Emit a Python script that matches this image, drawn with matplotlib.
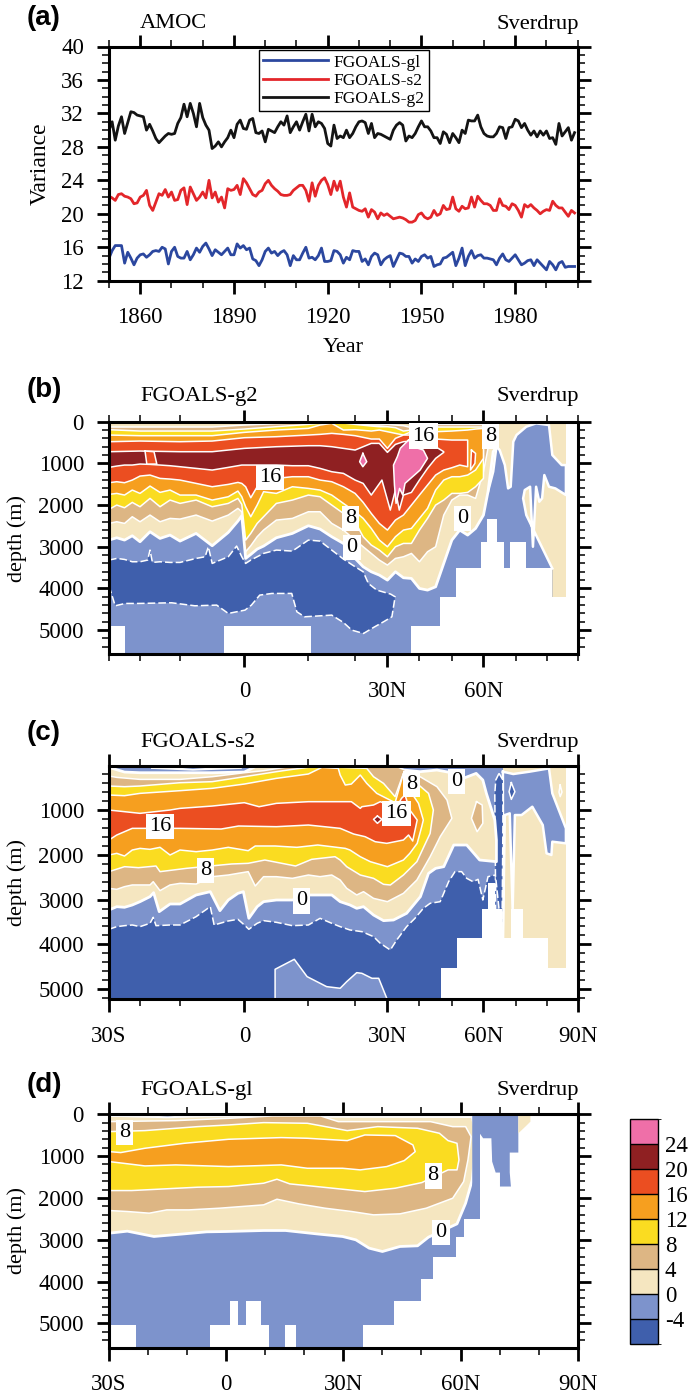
import matplotlib
matplotlib.use('Agg')
import matplotlib.pyplot as plt
from matplotlib.cm import ScalarMappable
from matplotlib.colors import BoundaryNorm, ListedColormap
import numpy as np

plt.rcParams['font.family'] = ['Liberation Serif', 'DejaVu Serif']

# colores de los niveles
levels = [-8, -4, 0, 4, 8, 12, 16, 20, 24, 28]
col_db, col_lb, col_cream, col_tan, col_yellow = '#3F5FAC', '#7D93CC', '#F5E6C0', '#DDB684', '#FADC21'
col_orange, col_red, col_dred, col_pink = '#F69F1F', '#EB4E21', '#8F2022', '#EF6FA8'
level_colors = [col_db, col_lb, col_cream, col_tan, col_yellow, col_orange, col_red, col_dred, col_pink]

# ---- panel (a) ----
years = list(range(1850, 2000))
g2 = [30.0, 31.0, 28.8, 30.5, 31.6, 29.6, 30.9, 32.2, 32.1, 31.8,
      31.7, 31.6, 30.0, 30.7, 29.9, 29.0, 28.5, 28.9, 29.3, 29.6,
      29.5, 29.6, 30.8, 31.5, 33.1, 31.6, 33.2, 32.0, 30.4, 33.2,
      31.5, 30.6, 30.0, 27.8, 28.1, 28.6, 28.0, 28.6, 29.1, 30.0,
      29.1, 30.7, 31.2, 30.2, 30.1, 31.2, 31.4, 29.7, 29.6, 29.9,
      28.6, 30.1, 29.9, 29.7, 30.4, 31.0, 30.6, 31.7, 29.7, 30.4,
      31.0, 30.0, 31.0, 31.9, 29.9, 31.9, 30.4, 31.0, 30.8, 30.2,
      28.4, 28.1, 30.6, 29.0, 29.3,
      29.1, 30.0, 29.1, 29.6, 30.4, 31.0, 31.1, 30.9, 29.6, 30.8,
      29.1, 29.6, 29.5, 29.3, 29.1, 28.9, 30.0, 30.6, 30.9, 30.6,
      28.7, 29.3, 29.1, 29.6, 30.4, 31.1, 30.4, 30.4, 29.9, 29.1,
      29.1, 28.4, 29.8, 29.5, 28.5, 29.6, 29.1, 28.5, 30.0, 29.6,
      31.2, 31.1, 31.1, 31.8, 30.4, 29.6, 29.3, 29.2, 29.2, 29.6,
      30.4, 30.3, 29.0, 30.3, 30.4, 31.3, 31.1, 30.3, 30.8, 30.0,
      29.4, 29.9, 29.2, 29.9, 29.4, 29.9, 29.0, 29.1, 28.3, 30.8,
      29.3, 29.8, 30.3, 28.8, 29.7]
s2 = [22.1, 21.9, 21.6, 22.3, 22.4, 22.1, 22.0, 21.8, 21.2, 21.3,
      22.0, 22.2, 22.8, 21.0, 20.4, 21.4, 22.4, 22.2, 22.9, 22.0,
      22.6, 21.6, 21.7, 22.8, 23.1, 21.1, 23.2, 22.4, 21.6, 22.0,
      22.6, 21.9, 24.0, 21.9, 22.6, 21.4, 22.0, 20.7, 23.0, 22.8,
      22.9, 23.4, 22.3, 24.2, 23.7, 23.0, 22.3, 22.1, 22.6, 22.8,
      23.6, 24.0, 23.4, 23.0, 22.7, 22.3, 22.2, 22.2, 22.3, 22.8,
      23.1, 23.4, 23.4, 22.8, 21.5, 23.7, 22.1, 23.4, 24.0, 24.3,
      23.5, 22.3, 23.9, 22.8, 23.9,
      22.0, 20.8, 22.5, 20.8, 20.6, 20.4, 20.3, 20.6, 19.6, 20.5,
      20.2, 19.4, 20.1, 19.8, 20.0, 19.7, 19.4, 19.5, 19.6, 19.5,
      19.3, 19.0, 19.0, 19.2, 19.9, 20.1, 19.6, 19.4, 19.6, 20.4,
      19.8, 20.0, 21.0, 20.5, 20.6, 22.0, 20.6, 20.3, 20.9, 20.6,
      20.7, 22.0, 20.8, 22.1, 21.6, 21.2, 21.2, 21.0, 20.4, 20.4,
      21.8, 21.0, 20.9, 20.5, 21.2, 21.0, 20.4, 19.6, 21.1, 20.8,
      21.1, 20.7, 20.4, 20.0, 20.3, 20.5, 20.4, 21.5, 21.0, 20.7,
      20.7, 20.2, 19.7, 20.4, 20.1]
g1 = [14.7, 15.6, 16.2, 16.2, 16.2, 14.1, 15.4, 14.7, 13.9, 14.7,
      15.1, 15.2, 14.8, 15.1, 15.5, 15.6, 15.5, 16.0, 15.8, 14.0,
      15.5, 16.0, 14.9, 14.7, 14.7, 15.5, 14.5, 15.1, 15.9, 15.4,
      16.1, 16.5, 15.8, 15.0, 15.7, 15.4, 15.1, 15.5, 15.9, 15.1,
      15.1, 16.4, 15.9, 16.2, 15.7, 15.9, 14.6, 14.4, 13.8, 14.5,
      15.5, 15.9, 15.3, 15.5, 15.0, 15.4, 15.6, 15.1, 13.8, 15.0,
      14.5, 14.5, 15.3, 16.0, 14.7, 14.8, 14.5, 15.0, 15.9, 14.3,
      14.3, 14.4, 15.6, 15.5, 15.1,
      14.1, 14.8, 14.5, 15.6, 15.5, 15.5, 14.3, 14.6, 13.9, 14.9,
      15.3, 15.1, 13.9, 14.5, 14.8, 15.0, 13.7, 14.5, 15.3, 15.2,
      14.9, 14.9, 14.1, 14.6, 14.3, 14.9, 15.1, 14.7, 14.9, 13.7,
      13.9, 14.0, 14.7, 14.8, 15.1, 15.4, 13.8, 14.7, 15.9, 13.8,
      14.9, 15.6, 14.7, 15.0, 15.1, 14.7, 14.7, 14.6, 14.5, 13.9,
      14.7, 15.2, 14.5, 14.3, 14.7, 15.1, 14.5, 13.9, 14.1, 14.4,
      14.5, 13.8, 14.5, 14.1, 13.7, 13.3, 14.3, 13.9, 13.3, 14.1,
      14.3, 13.6, 13.7, 13.7, 13.7]

# ---- panel (b): profundidad de los contornos ----
b_lat = [-30, -27.5, -25, -22.5, -20, -17.5, -15, -12.5, -10, -7.5, -5, -2.5, -1, -0.4, 0.2,
         1, 2, 3, 5, 7.5, 10, 12.5, 15, 17.5, 20, 22.5, 25, 27.5, 30, 32.5,
         35, 37.5, 40, 42.5, 45, 47.5, 50, 52.5, 55, 57.5, 60]
b_top_lat = [-30, -20, -10, -5, 0, 5, 10, 12.5, 15, 17.5, 20, 25, 27.5, 30, 32.5, 35, 37.5, 40,
             45, 50, 55, 57.5, 60]
b_l0 = [2840, 2784, 2840, 2736, 2880, 2640, 2800, 2720, 2864, 2680, 2976, 2656, 2384, 2256, 3280,
        3184, 3056, 2984, 2784, 2680, 2496, 2576, 2760, 2920, 3280, 3480, 3600, 3680, 3800, 3600,
        3744, 3760, 4000, 4040, 3960, 3400, 2840, 2600, 2720, 2560, 2240]
b_l4 = [2440, 2400, 2440, 2280, 2400, 2240, 2400, 2320, 2336, 2240, 2384, 2240, 2080, 2160, 3120,
        2976, 2760, 2600, 2360, 2320, 2160, 2160, 2440, 2600, 2840, 3000, 3160, 3320, 3440, 3280,
        3240, 3160, 3360, 3120, 3000, 2240, 1880, 1760, 1760, 1840, 1200]
b_l8 = [2104, 2000, 2064, 1936, 2040, 1840, 2040, 1880, 1960, 1880, 2040, 1960, 1840, 1984, 2840,
        2680, 2440, 2280, 1960, 1880, 1760, 1800, 2000, 2200, 2400, 2760, 2960, 3080, 3240, 3000,
        2920, 2920, 2600, 2320, 2000, 1880, 1720, 1720, 1696, 1560, 1360]
b_l12 = [1744, 1720, 1760, 1640, 1720, 1544, 1696, 1640, 1760, 1760, 1880, 1800, 1664, 1800, 2040,
         2280, 2000, 1680, 1720, 1560, 1600, 1640, 1760, 1960, 2160, 2320, 2560, 2840, 3000, 2760,
         2600, 2560, 2320, 2080, 1640, 1400, 1320, 1320, 1280, 1160, 880]
b_l16 = [1464, 1440, 1464, 1400, 1304, 1280, 1360, 1376, 1400, 1480, 1560, 1504, 1456, 1480, 1560,
         1824, 1560, 1400, 1360, 1320, 1320, 1400, 1440, 1560, 1720, 1936, 2200, 2440, 2600, 2360,
         2240, 2000, 1760, 1520, 1280, 1160, 1104, 1040, 1080]
b_l20_lat = [-30, -27.5, -25, -22.5, -20, -17.5, -15, -12.5, -10, -7.5, -5, -2.5, -1, -0.4, 0.2,
             1, 2, 3, 5, 7.5, 10, 12.5, 15, 17.5, 20, 22.5, 25, 28.3, 30.9, 32.5, 33.7, 35, 37.5,
             40, 42.5, 45, 47.5]
b_l20 = [1096, 1064, 1040, 1040, 1016, 1024, 1040, 1056, 1080, 1120, 1160, 1096, 1056, 1040, 1040,
         1040, 1040, 1040, 1040, 1056, 1056, 1120, 1200, 1240, 1400, 1480, 1760, 1400, 2120, 1640,
         2120, 1760, 1696, 1400, 1120, 880, 736]
b_u4 = [128, 128, 128, 128, 80, 48, 32, 32, 16, 32, 48, 80, 80, 64, 80, 96, 144, 64, 64, 64, 64, 64, 64]
b_u8 = [192, 224, 224, 224, 176, 120, 64, 40, 32, 32, 64, 104, 120, 120, 144, 224, 200, 144, 128, 128,
        128, 128, 128]
b_u12 = [320, 336, 336, 336, 256, 200, 160, 80, 40, 200, 192, 224, 200, 240, 280, 320, 240, 256, 240,
         224, 200, 176, 160]
b_u16_lat = [-30, -20, -10, -5, 0, 5, 10, 12.5, 15, 17.5, 20, 25, 27.5, 30, 32.5, 35, 37.5, 40, 45, 50, 55]
b_u16 = [480, 464, 480, 464, 384, 360, 320, 304, 280, 304, 336, 416, 416, 640, 400, 320, 320, 400, 416,
         440, 440]
b_u20_lat = [-30, -20, -10, -5, 0, 5, 10, 12.5, 15, 17.5, 20, 25, 27.5, 30, 32.5, 35, 37.5, 40, 45, 47.5]
b_u20 = [720, 704, 720, 720, 640, 600, 576, 576, 600, 640, 680, 520, 520, 736, 544, 480, 464, 464, 600, 720]
b_db_lat = [-30, -27.5, -25, -22.5, -20, -18.1, -17.5, -16.9, -15, -12.5, -10, -7.5, -6.1, -5.6, -5,
            -2.5, -1.2, -0.4, 0.2, 1, 2, 3, 5, 7.5, 10, 12.5, 15, 17.5, 20, 22.5, 24.1, 26.7, 31, 32.4,
            31.4, 28.8, 25.7, 22.6, 19.3, 17.5, 15, 9.4, 8.2, 7.4, 4.3, 2.4, 1.1, 0.1, -2.5, -4.3,
            -7.7, -12.1, -20.4, -24.8, -28, -30]
b_db = [3320, 3280, 3304, 3360, 3360, 3320, 3080, 3376, 3360, 3376, 3376, 3280, 3240, 3000, 3400,
        3240, 2984, 3240, 3400, 3320, 3240, 3160, 3080, 3104, 2840, 2864, 3080, 3296, 3480, 3600,
        3880, 4040, 4136, 4200,
        4680, 4800, 4936, 5080, 5000, 4816, 4640, 4680, 4560, 4120, 4120, 4160, 4400, 4520, 4600,
        4400, 4416, 4344, 4360, 4360, 4416, 3936]
b_pink_lat = [36.6, 34, 33.1, 31.9, 32.2, 32.7, 33.8, 34.8, 35.5, 40.2, 42.5, 41.2, 38.1]
b_pink = [440, 640, 840, 1040, 1520, 1960, 1600, 1760, 1480, 1160, 880, 680, 600]
b_pink2_lat = [22.4, 21.4, 22.4, 23.6]
b_pink2 = [760, 960, 1080, 960]
b_bridge_lat = [-18.75, -18.3, -15.8, -16.5]
b_bridge = [704, 1016, 1016, 720]
b_lens_lat = [56.2, 57.5, 57.3, 55.9]
b_lens = [680, 760, 1000, 1160]
b_polar_lat = [61.4, 63, 64, 65, 66.6, 67.6, 68.4, 69.2, 70.2, 73.3, 76.4, 80.5, 81.6, 84.7, 86.1, 86.1,
               82.6, 80.5, 79, 78.3, 77.4, 76.4, 75.4, 74.5, 72.8, 72.3, 73.3, 77.4, 81.6]
b_polar = [1680, 1200, 600, 680, 1040, 1600, 1560, 480, 320, 120, 40, 80, 800, 1040, 1040, 1760,
           1600, 1560, 1280, 1840, 1920, 1560, 3000, 1560, 1640, 1840, 2240, 2880, 3520]
b_bathy_lat = [-30, -25, -3.1, 10.6, 37.3, 46.2, 51.3, 59.2, 61.2, 64.2, 66.3, 68.3, 73.3, 81.6, 86.1, 90]
b_bathy = [4896, 5580, 4896, 5580, 4896, 4200, 3520, 2896, 2336, 2896, 3520, 2896, 3520, 4200, 0, 0]

# ---- panel (c) ----
c_db_lat = [-30, -27.5, -25, -22.5, -20, -17.5, -16.7, -16, -12.5, -10, -7.5, -5.3, -4.7, -2.5, -1, 0,
            0.7, 2, 3, 5, 7.5, 10, 12.5, 15, 16.8, 18.9, 22.1, 25.7, 27.8, 30.9, 32.9, 36, 38.6, 41.2,
            43.3, 46.4, 49, 51, 53.1, 54.7, 56.7, 58.3, 59.8, 61.4, 63.7]
c_db = [3663, 3604, 3582, 3567, 3604, 3529, 3396, 3582, 3567, 3567, 3381, 3157, 3567, 3477, 3440, 3567,
        3663, 3529, 3470, 3507, 3582, 3567, 3418, 3529, 3604, 3678, 3716, 3827, 3976, 4125, 3902, 3604,
        3418, 3195, 3083, 3046, 2600, 2376, 2376, 2525, 2600, 2547, 3009, 2488, 2451]
c_patch_lat = [4.8, 4.8, 7.8, 9.8, 13.9, 16.8, 18.2, 20.5, 22.1, 25.2, 27.3, 29.8, 29.8]
c_patch = [5300, 4556, 4333, 4720, 4943, 4980, 4832, 4631, 4646, 4757, 4757, 5203, 5300]
c_c0_lat = [-30, -27.5, -25, -22.5, -20, -17.5, -16.6, -15.2, -12.5, -10, -7.5, -5.3, -3.8, -2.5, -1, -0.15,
            0.7, 2, 3, 5, 7.5, 10, 12.5, 15, 16.8, 18.9, 20.5, 22.6, 25.7, 28.8, 31.9, 36, 40.3, 42.8,
            45, 47.5, 50.6, 54.7, 58.8, 64, 64, 63.5, 60.9, 59.8, 57.7, 53.6, 51, 45.4, 40.2, 35, 32.4,
            1.7, 0, -5, -10, -20, -25, -30]
c_c0 = [3232, 3158, 3172, 3120, 3046, 2934, 2845, 3269, 3098, 3098, 2897, 2823, 3247, 3009, 2860, 2823,
        3418, 3158, 3046, 3009, 3009, 2897, 2897, 2897, 3046, 3120, 3195, 3158, 3344, 3470, 3455, 3306,
        2934, 2414, 2302, 2265, 1781, 1781, 2116, 2153, 1670, 1223, 628, 330, 182, 293, 182, 107, 144,
        107, 62, 33, 152, 167, 167, 167, 152, 48]
c_c4_lat = [-30, -27.5, -25, -22.5, -20, -17.5, -16.7, -15, -12.5, -10, -7.5, -5, -2.5, -1, 0.6, 1.7, 3, 5,
            7.5, 10, 12.5, 15, 16.8, 18.2, 20.5, 22.6, 25.7, 30, 35, 39.2, 43.3, 46.4, 50, 48.5, 45.4,
            40.2, 33.5, 6.9, 3, 0, -5, -10, -20, -27.5, -30]
c_c4 = [2748, 2771, 2711, 2673, 2673, 2673, 2600, 2800, 2673, 2637, 2652, 2488, 2451, 2414, 2376, 2696,
        2488, 2488, 2525, 2451, 2488, 2451, 2562, 2748, 2897, 2823, 2972, 3046, 2860, 2562, 2042, 1595,
        1186, 777, 479, 256, 48, 33, 122, 167, 256, 316, 316, 271, 241]
c_c8_lat = [-30, -25, -20.5, -16, -15, -9, -2, 0.6, 3.2, 8, 10.7, 15.7, 16.8, 18.2, 21.6, 25.7, 28.8, 30.9,
            35, 39.2, 43.3, 44.3, 42.8, 39.2, 35, 32.4, 28.8, 25.7, 23.6, 16.8, 10, 7.5, 5, 0, -5, -10,
            -20, -25, -30]
c_c8 = [2376, 2265, 2287, 2250, 2376, 2302, 2205, 2190, 2116, 2250, 2101, 2042, 2116, 2265, 2451, 2525,
        2659, 2674, 2451, 2153, 1521, 1000, 628, 405, 182, 702, 405, 256, 70, 48, 48, 92, 144, 256, 367,
        390, 464, 479, 464]
c_c12_lat = [-30, -27.5, -25, -22.5, -20, -17.5, -15, -12.5, -10, -7.5, -5, -2.5, 0.6, 1.7, 4.8, 8.2, 12,
             17.9, 18.9, 21.6, 24.7, 30, 35, 37, 39.3, 40.7, 41.2, 39.7, 37.6, 35.5, 35, 32.4, 26.7, 23.6,
             21.6, 19.2, 17.9, 16.8, 16.4, 12.9, 10, 5, 0, -5, -10, -20, -25, -30]
c_c12 = [2004, 1967, 2027, 1893, 1856, 1878, 1833, 2004, 1893, 1930, 1893, 1833, 1908, 1803, 1803, 1833,
         1781, 1856, 1893, 2042, 2153, 2265, 2116, 1967, 1744, 1372, 1223, 851, 628, 368, 182, 836, 628,
         405, 219, 420, 442, 219, 70, 48, 196, 293, 420, 516, 568, 628, 680, 665]
c_c16_lat = [-30, -27.5, -22.5, -17.5, -10, -3.6, -0.9, 5, 10, 16.8, 19.7, 23.1, 26.2, 29.8, 35, 36.6, 37.9,
             39.3, 37, 35.5, 34.4, 32.9, 29.8, 27.8, 25.7, 22.1, 21.6, 19.2, 16.8, 15, 10, 5, 2.3, 0, -5,
             -10, -12.5, -20, -25, -30]
c_c16 = [1669, 1558, 1409, 1409, 1409, 1424, 1357, 1372, 1335, 1409, 1536, 1595, 1707, 1744, 1669, 1558,
         1692, 1223, 1000, 665, 740, 926, 873, 814, 888, 926, 963, 814, 814, 814, 814, 851, 926, 836, 911,
         963, 1000, 1074, 1037, 1000]
c_dlens_lat = [26.9, 28.3, 26.9, 25.7]
c_dlens = [1134, 1208, 1297, 1208]
c_tlens_lat = [57.8, 59.6, 59.8, 58, 56.2]
c_tlens = [814, 888, 1297, 1484, 1186]
c_polar_lat = [66, 69.2, 74.3, 80.5, 81.6, 86.1, 86.1, 81.6, 81.3, 79.7, 78.5, 75.2, 71.8, 69.7, 69, 68.1,
               66.6, 66]
c_polar = [144, 196, 144, 70, 628, 1409, 1744, 1707, 2004, 1967, 1335, 926, 1112, 1112, 3232, 1074, 1112, 3864]
c_strip_lat = [64.8, 66, 66, 65.7, 63.7, 63.5, 63.8]
c_strip = [182, 330, 1372, 3827, 2451, 628, 330]
c_dlens2_lat = [68.6, 69.7, 68.6, 67.9]
c_dlens2 = [389, 591, 762, 591]
c_clens_lat = [84.2, 84.8, 84.2, 83.8]
c_clens = [442, 600, 702, 600]
c_sliver_lat = [-17, -8, -0.5, -8]
c_sliver = [60, 42, 60, 100]
c_bathy_lat = [-30, 46.6, 51.6, 59.5, 61.4, 63.5, 65.8, 68.6, 72.3, 80.3, 86.1, 90]
c_bathy = [5300, 4534, 3864, 3216, 2622, 3216, 3864, 3216, 3864, 4534, 0, 0]

# ---- panel (d) ----
d_c0_lat = [-30, -25.3, -18.5, -10.7, -5, 0, 9.6, 15.2, 23.1, 29.8, 33.2, 36.6, 40, 44.5, 49, 51.8, 59.1,
            61.3, 63, 64.1, 63, -30]
d_c0 = [2842, 2794, 2921, 2858, 2810, 2802, 2778, 2778, 2858, 2921, 3001, 3200, 3280, 3160, 3144, 2937,
        2619, 2125, 1568, 533, 56, 32]
d_c4_lat = [-30, -25.3, -19.7, -15.2, -9.5, -1.7, 9.6, 13, 18.6, 25.3, 32.1, 37.7, 44.5, 51.2, 58, 60.8,
            61.9, 62.7, 61.3, 58, 52.3, 37.7, 28.7, 24.2, 11.8, 0.6, -12.9, -30]
d_c4 = [2300, 2324, 2364, 2285, 2285, 2245, 2165, 2030, 2141, 2245, 2324, 2404, 2380, 2245, 2006, 1608,
        1091, 533, 295, 295, 175, 175, 175, 40, 40, 96, 151, 175]
d_c8_lat = [-30, -24.2, -17.4, -7.3, 0.6, 9.6, 13, 16.3, 23.1, 29.8, 35.5, 43.3, 50.1, 56.8, 59.1, 59.6,
            59.1, 56.8, 54.6, 49, 38.8, 31, 20.8, 9.6, 0.6, -7.3, -20.8, -30]
d_c8 = [1823, 1823, 1791, 1743, 1727, 1648, 1552, 1664, 1727, 1791, 1847, 1767, 1632, 1329, 1329, 1091,
        693, 629, 454, 334, 295, 390, 215, 199, 255, 295, 390, 414]
d_c12_lat = [-30, -27, -20.8, -10.7, 0.6, 14.1, 20.8, 31, 35.5, 43.3, 47.8, 48.4, 45.6, 41.1, 34.3, 29.8,
             20.8, 14.1, 0.6, -12.9, -20.8, -26.4, -30]
d_c12 = [892, 915, 812, 693, 597, 557, 573, 629, 494, 509, 732, 892, 1106, 1250, 1329, 1290, 1290, 1210,
         1250, 1210, 1234, 1170, 1130]
d_polar_lat = [63, 74.8, 74.8, 72.6, 72.6, 72.9, 70.1, 70.1, 69, 68.1, 67.9, 65.8, 64.9, 64.9, 63]
d_polar = [24, 24, 915, 915, 1393, 1727, 1727, 1393, 1393, 1130, 573, 573, 454, 2499, 2499]
d_cream_lat = [74.8, 77.9, 77.9, 76.6, 74.8]
d_cream = [24, 24, 175, 295, 454]
d_sliver_lat = [-29, -15, -4, -15]
d_sliver = [40, 28, 40, 75]
d_bathy_lat = [-30, -23, -4.1, 1, 3.1, 5, 9, 10.9, 15, 18, 35, 43, 50, 52.9, 58.9, 60.9, 64.9, 90]
d_bathy = [5030, 5580, 5030, 4474, 5030, 4474, 5030, 5580, 5030, 5580, 5030, 4474, 3940, 3423, 2945, 2499, 0, 0]

model_titles = ['AMOC', 'FGOALS-g2', 'FGOALS-s2', 'FGOALS-gl']
lat_ticks = [-30, -20, -10, 0, 10, 20, 30, 40, 50, 60, 70, 80, 90]
lat_pos_bc = [109, 140, 180, 244.3, 308.3, 355, 387.3, 419.3, 451.7, 483.3, 515.7, 547.3, 577.5]
lat_names = {-30: '30S', 0: '0', 30: '30N', 60: '60N', 90: '90N'}

W, H = 689, 1396
fig = plt.figure(figsize=(W / 100, H / 100), dpi=100)


def make_axes(left, right, top, bottom):
    return fig.add_axes([left / W, 1 - bottom / H, (right - left) / W, (bottom - top) / H])


def deco(ax, letter, title, ylab, letter_y, title_y):
    for s in ax.spines.values():
        s.set_linewidth(2.2)
    ax.tick_params(which='major', direction='out', length=9, width=2.0, top=True, right=True, labelsize=16.5)
    ax.tick_params(axis='y', which='major', pad=9)
    ax.tick_params(axis='x', which='major', pad=10)
    ax.tick_params(which='minor', direction='out', length=5, width=1.1, top=True, right=True)
    fig.text(27 / W, 1 - letter_y / H, letter, family='Liberation Sans', weight='bold', fontsize=20, va='center')
    fig.text(140 / W, 1 - title_y / H, title, fontsize=16.2, va='center')
    fig.text(579 / W, 1 - title_y / H, 'Sverdrup', fontsize=16.2, va='center', ha='right')
    ax.set_ylabel(ylab, fontsize=16)


def band(ax, lat, dep, color, lw=1.1, ls='-'):
    ax.fill(lat, dep, color=color, lw=0, zorder=1.5)
    ax.plot(list(lat) + list(lat[:1]), list(dep) + list(dep[:1]), color='white', lw=lw, ls=ls, zorder=1.5)


def mask(ax, lat, dep, bottom):
    ax.fill_between(lat, dep, bottom, step='post', color='white', lw=0, zorder=1.5)


def tag(ax, lat, dep, txt):
    ax.text(lat, dep, txt, fontsize=16, ha='center', va='center', zorder=3,
            bbox=dict(fc='white', ec='none', pad=2.2))


def lat_axis(ax, major):
    ax.set_xlim(-30, 90)
    ax.set_xticks(major)
    ax.set_xticklabels([lat_names[m] for m in major])
    ax.set_xticks([t for t in lat_ticks if t not in major], minor=True)


def nonlinear(ax):
    ax.set_xscale('function', functions=(lambda v: np.interp(v, lat_ticks, lat_pos_bc),
                                         lambda p: np.interp(p, lat_pos_bc, lat_ticks)))


# panel a
ax = make_axes(109, 577.7, 46.5, 280.7)
ax.plot(years, g1, color='#2B479F', lw=2.0, label='FGOALS-gl')
ax.plot(years, s2, color='#E3262A', lw=2.0, label='FGOALS-s2')
ax.plot(years, g2, color='#141414', lw=2.0, label='FGOALS-g2')
ax.set_xlim(1850, 2000)
ax.set_ylim(12, 40)
ax.set_xticks(range(1860, 2000, 30))
ax.set_xticks(range(1850, 2001, 10), minor=True)
ax.set_yticks(range(12, 41, 4))
ax.set_yticks(range(12, 41, 1), minor=True)
deco(ax, '(a)', model_titles[0], 'Variance', 18, 24)
ax.set_xlabel('Year', fontsize=16, labelpad=7)
leg = ax.legend(loc='upper left', bbox_to_anchor=(0.319, 0.985), fontsize=12.5, frameon=True, fancybox=False,
                edgecolor='black', framealpha=1, handlelength=3.75, labelspacing=0.12, borderpad=0.25,
                handletextpad=0.3, borderaxespad=0)
leg.get_frame().set_linewidth(1.0)

# panel b
ax = make_axes(109, 577.7, 421.7, 654.3)
nonlinear(ax)
bottom_b = 5580
ax.fill([-30, 86.1, 86.1, -30], [0, 0, bottom_b, bottom_b], color=col_lb, lw=0, zorder=1.5)
ax.fill([60, 86.1, 86.1, 60], [0, 0, bottom_b, bottom_b], color=col_cream, lw=0, zorder=1.5)
ax.fill(b_polar_lat + [81.6, 59, 59, 61.4], b_polar + [bottom_b, bottom_b, 2240, 1680], color=col_lb, lw=0, zorder=1.5)
ax.plot(b_polar_lat, b_polar, color='white', lw=1.8, zorder=1.5)
band(ax, b_db_lat, b_db, col_db, ls=(0, (5, 2)))
band(ax, b_lat + [61.4, 63, 64, 64, -30], b_l0 + [1680, 720, 600, 16, 16], col_cream, lw=2.0)
band(ax, b_lat + [61.4] + b_top_lat[::-1], b_l4 + [640] + b_u4[::-1], col_tan)
band(ax, b_lat + b_top_lat[::-1], b_l8 + b_u8[::-1], col_yellow)
band(ax, b_lat + b_top_lat[::-1], b_l12 + b_u12[::-1], col_orange)
band(ax, b_lat[:39] + b_u16_lat[::-1], b_l16 + b_u16[::-1], col_red)
band(ax, b_lens_lat, b_lens, col_red)
band(ax, b_l20_lat + b_u20_lat[::-1], b_l20 + b_u20[::-1], col_dred)
band(ax, b_bridge_lat, b_bridge, col_red)
band(ax, b_pink_lat, b_pink, col_pink)
band(ax, b_pink2_lat, b_pink2, col_pink)
mask(ax, b_bathy_lat, b_bathy, bottom_b)
ax.set_ylim(bottom_b, 0)
lat_axis(ax, [0, 30, 60])
ax.set_yticks(range(0, 5001, 1000))
ax.set_yticks(range(0, 5501, 200), minor=True)
deco(ax, '(b)', model_titles[1], 'depth (m)', 390, 397)
tag(ax, 41.2, 344, '16')
tag(ax, 4, 1344, '16')
tag(ax, 19, 2320, '8')
tag(ax, 19.3, 3024, '0')
tag(ax, 62.1, 360, '8')
tag(ax, 53.3, 2320, '0')

# panel c
ax = make_axes(109, 577.7, 766, 999.3)
nonlinear(ax)
bottom_c = 5226
ax.fill([-30, 66, 66, -30], [0, 0, 5300, 5300], color=col_lb, lw=0, zorder=1.5)
ax.fill([66, 86.1, 86.1, 66], [0, 0, 5300, 5300], color=col_cream, lw=0, zorder=1.5)
band(ax, c_polar_lat, c_polar, col_lb, lw=1.8)
band(ax, c_db_lat + [63.7, -30], c_db + [5300, 5300], col_db, ls=(0, (5, 2)))
band(ax, c_strip_lat, c_strip, col_db, ls=(0, (5, 2)))
band(ax, c_dlens2_lat, c_dlens2, col_db)
band(ax, c_clens_lat, c_clens, col_cream)
band(ax, c_patch_lat, c_patch, col_lb)
band(ax, c_c0_lat, c_c0, col_cream, lw=2.0)
band(ax, c_sliver_lat, c_sliver, col_db, lw=1.4)
band(ax, c_tlens_lat, c_tlens, col_tan)
band(ax, c_c4_lat, c_c4, col_tan)
band(ax, c_c8_lat, c_c8, col_yellow)
band(ax, c_c12_lat, c_c12, col_orange)
band(ax, c_c16_lat, c_c16, col_red)
band(ax, c_dlens_lat, c_dlens, col_dred)
mask(ax, c_bathy_lat, c_bathy, 5300)
ax.set_ylim(bottom_c, 17)
lat_axis(ax, [-30, 0, 30, 60, 90])
ax.set_yticks(range(1000, 5001, 1000))
ax.set_yticks(range(200, 5201, 200), minor=True)
deco(ax, '(c)', model_titles[2], 'depth (m)', 733, 742)
tag(ax, -15, 1372, '16')
tag(ax, -6, 2354, '8')
tag(ax, 8.9, 3031, '0')
tag(ax, 37.6, 420, '8')
tag(ax, 32.9, 1074, '16')
tag(ax, 51.4, 368, '0')

# panel d
ax = make_axes(109, 577.7, 1114.3, 1347.7)
bottom_d = 5580
ax.fill([-30, 65, 65, -30], [0, 0, bottom_d, bottom_d], color=col_lb, lw=0, zorder=1.5)
band(ax, d_c0_lat, d_c0, col_cream, lw=2.0)
band(ax, d_sliver_lat, d_sliver, col_db, lw=1.2)
band(ax, d_c4_lat, d_c4, col_tan)
band(ax, d_c8_lat, d_c8, col_yellow)
band(ax, d_c12_lat, d_c12, col_orange)
mask(ax, d_bathy_lat, d_bathy, bottom_d)
ax.fill(d_polar_lat, d_polar, color=col_lb, lw=0, zorder=1.5)
ax.fill(d_cream_lat, d_cream, color=col_cream, lw=0, zorder=1.5)
ax.set_ylim(bottom_d, 0)
lat_axis(ax, [-30, 0, 30, 60, 90])
ax.set_yticks(range(0, 5001, 1000))
ax.set_yticks(range(0, 5501, 200), minor=True)
deco(ax, '(d)', model_titles[3], 'depth (m)', 1085, 1090)
tag(ax, -26, 438, '8')
tag(ax, 53, 1473, '8')
tag(ax, 55, 2826, '0')

# posición de las etiquetas del eje y
for a in fig.axes:
    a.yaxis.set_label_coords(-0.175 if a.get_ylabel() != 'Variance' else -0.124, 0.5)
fig.axes[0].yaxis.label.set_size(17)

# barra de colores
cax = make_axes(630, 658, 1119, 1344)
sm = ScalarMappable(norm=BoundaryNorm(levels, len(level_colors)), cmap=ListedColormap(level_colors))
cb = fig.colorbar(sm, cax=cax, drawedges=True, ticks=levels[1:-1])
cb.ax.set_yticklabels([str(v) for v in levels[1:-1]])
cb.ax.tick_params(length=0, labelsize=16.5, pad=5)
cb.outline.set_linewidth(1.0)
cb.dividers.set_linewidth(1.0)

fig.savefig('out.png', dpi=100)
